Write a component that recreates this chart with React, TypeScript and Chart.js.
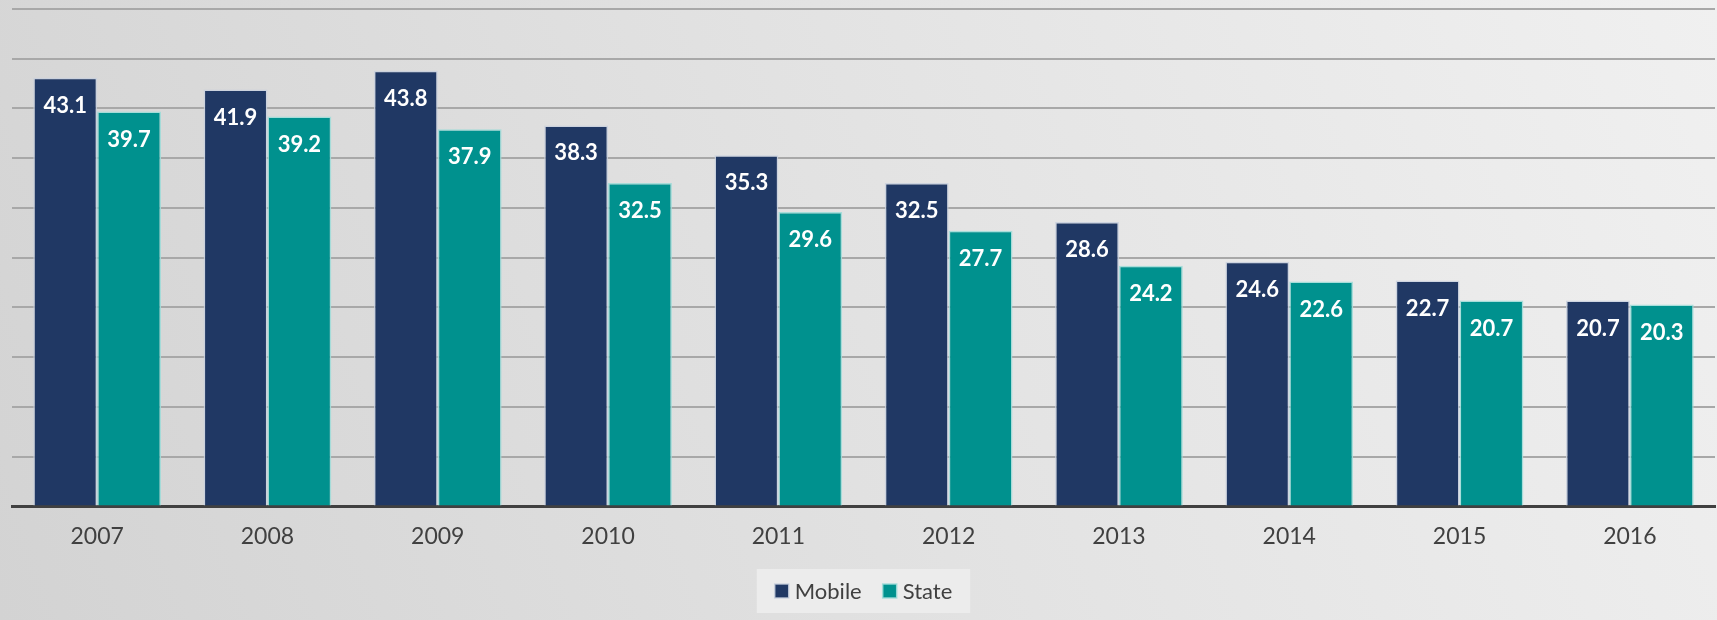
import React, { useEffect, useRef } from "react";
import { Chart, registerables } from "chart.js";

Chart.register(...registerables);

const years = ["2007", "2008", "2009", "2010", "2011", "2012", "2013", "2014", "2015", "2016"];
const mobile = [43.1, 41.9, 43.8, 38.3, 35.3, 32.5, 28.6, 24.6, 22.7, 20.7];
const state = [39.7, 39.2, 37.9, 32.5, 29.6, 27.7, 24.2, 22.6, 20.7, 20.3];
const yMax = 50;
const yStep = 5;

const FONT = "Lato, 'Open Sans', 'Noto Sans', sans-serif";

const bgPlugin = {
  id: "bgPlugin",
  beforeDraw(chart: any) {
    const { ctx, width, height } = chart;
    ctx.save();
    const g = ctx.createLinearGradient(width, 0, 0, height);
    g.addColorStop(0, "#F0F0F0");
    g.addColorStop(0.5, "#E2E2E2");
    g.addColorStop(1, "#D3D3D3");
    ctx.fillStyle = g;
    ctx.fillRect(0, 0, width, height);
    ctx.restore();
  },
};

const legendPlugin = {
  id: "customLegend",
  afterDraw(chart: any) {
    const { ctx, chartArea } = chart;
    ctx.save();
    ctx.font = `22px ${FONT}`;
    ctx.textBaseline = "middle";
    ctx.textAlign = "left";
    const ds = chart.data.datasets;
    const box = 14;
    const gapText = 6;
    const gapItem = 21;
    const widths = ds.map((d: any) => ctx.measureText(d.label).width);
    let total = 0;
    widths.forEach((w: number, i: number) => {
      total += box + gapText + w + (i < widths.length - 1 ? gapItem : 0);
    });
    const cx = (chartArea.left + chartArea.right) / 2;
    const cy = 591;
    let x = cx - total / 2;
    ctx.fillStyle = "rgba(236,236,236,0.95)";
    ctx.fillRect(x - 18, cy - 22, total + 36, 44);
    ds.forEach((d: any, i: number) => {
      ctx.fillStyle = d.backgroundColor;
      ctx.fillRect(x, cy - box / 2, box, box);
      ctx.strokeStyle = d.borderColor;
      ctx.lineWidth = 1.5;
      ctx.strokeRect(x, cy - box / 2, box, box);
      x += box + gapText;
      ctx.fillStyle = "#404040";
      ctx.fillText(d.label, x, cy + 1);
      x += widths[i] + gapItem;
    });
    ctx.restore();
  },
};

const labelPlugin = {
  id: "labelPlugin",
  afterDatasetsDraw(chart: any) {
    const { ctx } = chart;
    ctx.save();
    ctx.fillStyle = "#FFFFFF";
    ctx.font = `bold 22px ${FONT}`;
    ctx.textAlign = "center";
    ctx.textBaseline = "middle";
    chart.data.datasets.forEach((ds: any, di: number) => {
      const meta = chart.getDatasetMeta(di);
      meta.data.forEach((el: any, i: number) => {
        ctx.fillText(Number(ds.data[i]).toFixed(1), el.x, el.y + 28);
      });
    });
    ctx.restore();
  },
};

export default function App() {
  const ref = useRef<HTMLCanvasElement | null>(null);
  useEffect(() => {
    document.body.style.margin = "0";
    if (!ref.current) return;
    const chart = new Chart(ref.current, {
      type: "bar",
      data: {
        labels: years,
        datasets: [
          {
            label: "Mobile",
            data: mobile,
            backgroundColor: "#203864",
            borderColor: "rgba(200,208,222,0.85)",
            borderWidth: 1.5,
            categoryPercentage: 0.75,
            barPercentage: 1,
          },
          {
            label: "State",
            data: state,
            backgroundColor: "#00918E",
            borderColor: "rgba(160,220,216,0.9)",
            borderWidth: 1.5,
            categoryPercentage: 0.75,
            barPercentage: 1,
          },
        ],
      },
      options: {
        animation: false,
        responsive: true,
        maintainAspectRatio: false,
        layout: { padding: { left: 12, right: 2, top: 9, bottom: 54 } },
        plugins: {
          tooltip: { enabled: false },
          legend: { display: false },
        },
        scales: {
          x: {
            grid: { display: false, drawTicks: false },
            border: { display: true, color: "#404040", width: 3 },
            ticks: {
              color: "#404040",
              font: { family: FONT, size: 23 },
              padding: 16,
            },
          },
          y: {
            min: 0,
            max: yMax,
            ticks: { display: false, stepSize: yStep },
            border: { display: false },
            grid: { color: "#A8A8A8", lineWidth: 2, drawTicks: false },
          },
        },
      },
      plugins: [bgPlugin, labelPlugin, legendPlugin],
    } as any);
    return () => chart.destroy();
  }, []);
  return (
    <div style={{ width: 1717, height: 620, position: "relative" }}>
      <canvas ref={ref} />
    </div>
  );
}
